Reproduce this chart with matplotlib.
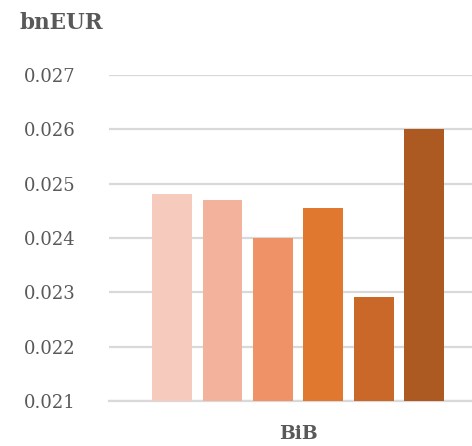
import numpy as np
import matplotlib.pyplot as plt

# values (bnEUR)
series = ["s1", "s2", "s3", "s4", "s5", "s6"]
values = [0.02481, 0.02470, 0.02400, 0.02455, 0.02291, 0.02600]
colors = ["#F6CBBE", "#F2B29C", "#EF9268", "#E07830", "#C96828", "#AD5A22"]
yticks = [0.021, 0.022, 0.023, 0.024, 0.025, 0.026, 0.027]
category = "BiB"
unit = "bnEUR"

plt.rcParams["font.family"] = ["DejaVu Serif"]
text_col = "#595959"

fig = plt.figure(figsize=(4.72, 4.46), dpi=100)
ax = fig.add_axes([109 / 472, 45 / 446, 363 / 472, 326 / 446])

x = np.arange(len(values))
ax.bar(x, values, width=0.79, color=colors, zorder=3)

ax.set_ylim(0.021, 0.027)
ax.set_xlim(-1.25, 5.95)
ax.set_yticks(yticks)
ax.set_yticklabels([f"{v:.3f}" for v in yticks], fontsize=13, color=text_col)
ax.tick_params(axis="y", length=0, pad=24)
ax.set_xticks([])
ax.grid(axis="y", color="#D9D9D9", linewidth=1.6, zorder=0)
for s in ["top", "right", "left"]:
    ax.spines[s].set_visible(False)
ax.spines["bottom"].set_color("#D9D9D9")
ax.spines["bottom"].set_linewidth(1.6)

fig.text(298 / 472, 1 - 434 / 446, category, ha="center", va="center",
         fontsize=13.5, fontweight="bold", color=text_col)
fig.text(19 / 472, 1 - 23 / 446, unit, ha="left", va="center",
         fontsize=15.5, fontweight="bold", color=text_col)

fig.savefig("out.png", dpi=100)
